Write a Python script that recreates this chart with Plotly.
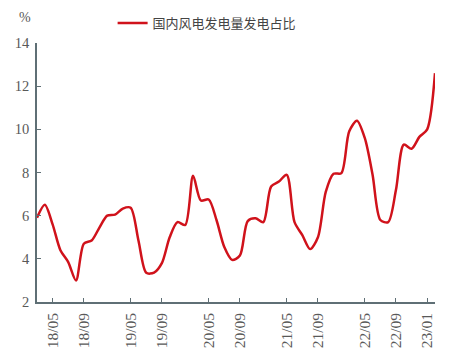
import plotly.graph_objects as go

series_name = "国内风电发电量发电占比"

months = [
    "18/03", "18/04", "18/05", "18/06", "18/07", "18/08", "18/09", "18/10", "18/11", "18/12",
    "19/03", "19/04", "19/05", "19/06", "19/07", "19/08", "19/09", "19/10", "19/11", "19/12",
    "20/03", "20/04", "20/05", "20/06", "20/07", "20/08", "20/09", "20/10", "20/11", "20/12",
    "21/03", "21/04", "21/05", "21/06", "21/07", "21/08", "21/09", "21/10", "21/11", "21/12",
    "22/03", "22/04", "22/05", "22/06", "22/07", "22/08", "22/09", "22/10", "22/11", "22/12",
    "23/01", "23/02",
]

wind_share = [
    5.9, 6.5, 5.6, 4.4, 3.85, 3.0, 4.7, 4.85, 5.45, 6.0,
    6.05, 6.33, 6.37, 4.85, 3.35, 3.36, 3.8, 5.0, 5.7, 5.57,
    7.85, 6.7, 6.75, 5.8, 4.55, 3.95, 4.15, 5.75, 5.88, 5.7,
    7.35, 7.58, 7.89, 5.7, 5.1, 4.45, 5.0, 7.1, 7.94, 7.97,
    9.9, 10.4, 9.6, 7.9, 5.8, 5.7, 7.2, 9.29, 9.1, 9.65,
    10.0, 12.6,
]

tick_labels = ["18/05", "18/09", "19/05", "19/09", "20/05", "20/09",
               "21/05", "21/09", "22/05", "22/09", "23/01"]

y_ticks = [2, 4, 6, 8, 10, 12, 14]

axis_color = "#5f6f75"
text_color = "#595959"
serif = "Liberation Serif"

fig = go.Figure()
fig.add_trace(go.Scatter(
    x=months, y=wind_share, mode="lines", name=series_name,
    line=dict(color="#d0121b", width=2.5, shape="spline", smoothing=0.8),
))

fig.update_layout(
    width=450, height=351,
    margin=dict(l=29, r=23, t=35, b=57, autoexpand=False),
    paper_bgcolor="white", plot_bgcolor="white",
    showlegend=True,
    legend=dict(x=0.19, y=1.135, xanchor="left", yanchor="top",
                orientation="h", bgcolor="rgba(0,0,0,0)",
                font=dict(family="Noto Sans CJK SC", size=13, color="#444444")),
    font=dict(family=serif, color=text_color, size=13),
)

fig.update_xaxes(
    type="category", range=[0, len(months) - 1],
    tickmode="array", tickvals=tick_labels, ticktext=tick_labels,
    tickangle=-90, ticks="inside", ticklen=4, tickcolor=axis_color,
    showline=True, linecolor=axis_color, linewidth=1.5,
    showgrid=False, zeroline=False,
    tickfont=dict(family=serif, size=15.5, color=text_color),
    ticklabelstandoff=3,
)
fig.update_yaxes(
    range=[2, 14], tickmode="array", tickvals=y_ticks,
    ticks="inside", ticklen=4, tickcolor=axis_color,
    showline=True, linecolor=axis_color, linewidth=1.5,
    showgrid=False, zeroline=False,
    tickfont=dict(family=serif, size=14.5, color=text_color),
    ticklabelstandoff=3,
)

fig.add_annotation(text="%", xref="paper", yref="paper", x=-0.03, y=1.10,
                   xanchor="center", yanchor="middle", showarrow=False,
                   font=dict(family=serif, size=14, color=text_color))

fig.write_html("out.html")
